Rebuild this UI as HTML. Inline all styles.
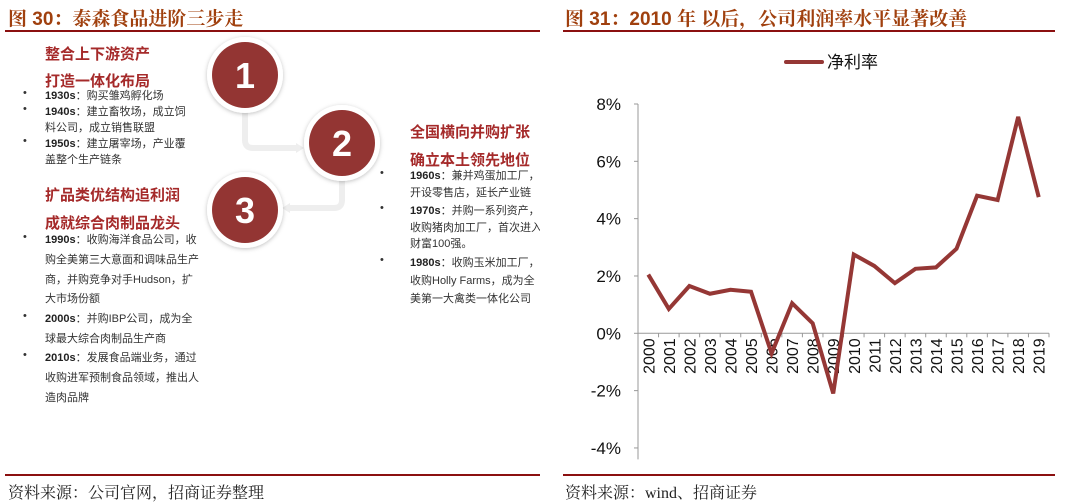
<!DOCTYPE html>
<html><head><meta charset="utf-8"><style>
body{margin:0;width:1080px;height:504px;background:#fff;position:relative;overflow:hidden;font-family:"Liberation Sans","Noto Sans CJK SC",sans-serif;}
.abs{position:absolute;white-space:nowrap;}
.title{font-family:"Liberation Sans","Noto Serif CJK SC",serif;font-weight:bold;font-size:19px;color:#a0400e;top:4px;}
.rule{position:absolute;height:2px;background:#8b1010;}
.src{font-family:"Liberation Serif","Noto Serif CJK SC",serif;font-size:16px;color:#222;top:480px;}
.h{font-size:15px;font-weight:bold;color:#a52a2a;}
.t{font-size:11px;color:#333;}
.t b{color:#222;}
.bul{font-size:11px;color:#333;}
</style></head><body>
<div class="abs title" style="left:8px">图 30：泰森食品进阶三步走</div>
<div class="rule" style="left:5px;top:30px;width:535px"></div>
<div class="abs title" style="left:565px">图 31：2010 年 以后，公司利润率水平显著改善</div>
<div class="rule" style="left:563px;top:30px;width:492px"></div>
<div class="rule" style="left:5px;top:474px;width:535px"></div>
<div class="rule" style="left:563px;top:474px;width:492px"></div>
<div class="abs src" style="left:8px">资料来源：公司官网，招商证券整理</div>
<div class="abs src" style="left:565px">资料来源：wind、招商证券</div>

<svg class="abs" style="left:0;top:0" width="540" height="470">
<defs><filter id="sh" x="-30%" y="-30%" width="160%" height="160%"><feDropShadow dx="0" dy="1" stdDeviation="2" flood-color="#000" flood-opacity="0.25"/></filter></defs>
<path d="M245 112 L245 140 Q245 148 253 148 L298 148" fill="none" stroke="#eee" stroke-width="6"/>
<path d="M296 143 L304 148 L296 153Z" fill="#eee"/>
<path d="M342 180 L342 200 Q342 208 334 208 L288 208" fill="none" stroke="#eee" stroke-width="6"/>
<path d="M290 203 L282 208 L290 213Z" fill="#eee"/>
<g><circle cx="245" cy="75" r="38" fill="#fff" filter="url(#sh)"/><circle cx="245" cy="75" r="33" fill="#933533"/><text x="245" y="88" text-anchor="middle" font-size="36" font-weight="bold" fill="#fff" font-family="Liberation Sans Narrow,Liberation Sans,sans-serif">1</text></g>
<g><circle cx="342" cy="143" r="38" fill="#fff" filter="url(#sh)"/><circle cx="342" cy="143" r="33" fill="#933533"/><text x="342" y="156" text-anchor="middle" font-size="36" font-weight="bold" fill="#fff" font-family="Liberation Sans Narrow,Liberation Sans,sans-serif">2</text></g>
<g><circle cx="245" cy="210" r="38" fill="#fff" filter="url(#sh)"/><circle cx="245" cy="210" r="33" fill="#933533"/><text x="245" y="223" text-anchor="middle" font-size="36" font-weight="bold" fill="#fff" font-family="Liberation Sans Narrow,Liberation Sans,sans-serif">3</text></g>
</svg>

<div class="abs h" style="left:45px;top:43px">整合上下游资产</div>
<div class="abs h" style="left:45px;top:70px">打造一体化布局</div>
<div>
<div class="abs bul" style="left:23px;top:87px">•</div><div class="abs t" style="left:45px;top:87px"><b>1930s</b>：购买雏鸡孵化场</div>
<div class="abs bul" style="left:23px;top:103px">•</div><div class="abs t" style="left:45px;top:103px"><b>1940s</b>：建立畜牧场，成立饲</div>
<div class="abs t" style="left:45px;top:119px">料公司，成立销售联盟</div>
<div class="abs bul" style="left:23px;top:135px">•</div><div class="abs t" style="left:45px;top:135px"><b>1950s</b>：建立屠宰场，产业覆</div>
<div class="abs t" style="left:45px;top:151px">盖整个生产链条</div>
</div>
<div class="abs h" style="left:45px;top:184px">扩品类优结构追利润</div>
<div class="abs h" style="left:45px;top:212px">成就综合肉制品龙头</div>
<div>
<div class="abs bul" style="left:23px;top:231px">•</div><div class="abs t" style="left:45px;top:231px"><b>1990s</b>：收购海洋食品公司，收</div>
<div class="abs t" style="left:45px;top:251px">购全美第三大意面和调味品生产</div>
<div class="abs t" style="left:45px;top:271px">商，并购竞争对手Hudson，扩</div>
<div class="abs t" style="left:45px;top:290px">大市场份额</div>
<div class="abs bul" style="left:23px;top:310px">•</div><div class="abs t" style="left:45px;top:310px"><b>2000s</b>：并购IBP公司，成为全</div>
<div class="abs t" style="left:45px;top:330px">球最大综合肉制品生产商</div>
<div class="abs bul" style="left:23px;top:349px">•</div><div class="abs t" style="left:45px;top:349px"><b>2010s</b>：发展食品端业务，通过</div>
<div class="abs t" style="left:45px;top:369px">收购进军预制食品领域，推出人</div>
<div class="abs t" style="left:45px;top:389px">造肉品牌</div>
</div>
<div style="position:absolute;left:0;top:0;width:540px;height:470px;overflow:hidden">
<div class="abs h" style="left:410px;top:121px">全国横向并购扩张</div>
<div class="abs h" style="left:410px;top:149px">确立本土领先地位</div>
<div class="abs bul" style="left:380px;top:167px">•</div><div class="abs t" style="left:410px;top:167px"><b>1960s</b>：兼并鸡蛋加工厂，</div>
<div class="abs t" style="left:410px;top:184px">开设零售店，延长产业链</div>
<div class="abs bul" style="left:380px;top:202px">•</div><div class="abs t" style="left:410px;top:202px"><b>1970s</b>：并购一系列资产，</div>
<div class="abs t" style="left:410px;top:219px">收购猪肉加工厂，首次进入</div>
<div class="abs t" style="left:410px;top:235px">财富100强。</div>
<div class="abs bul" style="left:380px;top:254px">•</div><div class="abs t" style="left:410px;top:254px"><b>1980s</b>：收购玉米加工厂，</div>
<div class="abs t" style="left:410px;top:272px">收购Holly Farms，成为全</div>
<div class="abs t" style="left:410px;top:290px">美第一大禽类一体化公司</div>
</div>

<svg class="abs" style="left:0;top:0" width="1080" height="504" id="chart"></svg>
<script>
const years=["2000","2001","2002","2003","2004","2005","2006","2007","2008","2009","2010","2011","2012","2013","2014","2015","2016","2017","2018","2019"];
const netMargin=[2.05,0.85,1.65,1.38,1.52,1.45,-0.7,1.05,0.35,-2.1,2.75,2.35,1.75,2.25,2.3,2.95,4.8,4.65,7.55,4.75];
const yTicks=[8,6,4,2,0,-2,-4];
const yTickLabels=["8%","6%","4%","2%","0%","-2%","-4%"];
const svg=document.getElementById('chart');
const NS='http://www.w3.org/2000/svg';
const x0=638,x1=1049,yTop=104,yZero=333.3,pxPer=(yZero-yTop)/8;
const y=v=>yZero-v*pxPer;
const step=(x1-x0)/years.length;
const x=i=>x0+step*(i+0.5);
function mk(t,a){const e=document.createElementNS(NS,t);for(const k in a)e.setAttribute(k,a[k]);svg.appendChild(e);return e;}
const ax=mk('line',{x1:x0,y1:yTop,x2:x0,y2:y(-4.4),stroke:'#999','stroke-width':1});


yTicks.forEach((v,i)=>{
  const tk=mk('line',{x1:x0-4,y1:y(v),x2:x0,y2:y(v),stroke:'#999'});
  
  
  const t=mk('text',{x:x0-17,y:y(v)+6,'text-anchor':'end','font-size':17,fill:'#111','font-family':'Liberation Sans,sans-serif'});
  t.textContent=yTickLabels[i];
  
  
});
const xa=mk('line',{x1:x0,y1:yZero,x2:x1,y2:yZero,stroke:'#999'});


for(let i=0;i<=years.length;i++){
  const tk=mk('line',{x1:x0+step*i,y1:yZero,x2:x0+step*i,y2:yZero+4,stroke:'#999'});
  
  
}
years.forEach((yr,i)=>{
  const t=mk('text',{x:0,y:0,'font-size':16,fill:'#111','font-family':'Liberation Sans,sans-serif','text-anchor':'end',transform:`translate(${x(i)+6},${yZero+5}) rotate(-90)`});
  t.textContent=yr;
  
  
});
const pl=mk('polyline',{points:netMargin.map((v,i)=>x(i)+','+y(v)).join(' '),fill:'none',stroke:'#953735','stroke-width':4,'stroke-linejoin':'miter'});


const ll=mk('line',{x1:786,y1:62,x2:822,y2:62,stroke:'#953735','stroke-width':4,'stroke-linecap':'round'});


const lt=mk('text',{x:827,y:68,'font-size':17,fill:'#111','font-family':'Liberation Sans,Noto Sans CJK SC,sans-serif'});
lt.textContent='净利率';


</script>
</body></html>
